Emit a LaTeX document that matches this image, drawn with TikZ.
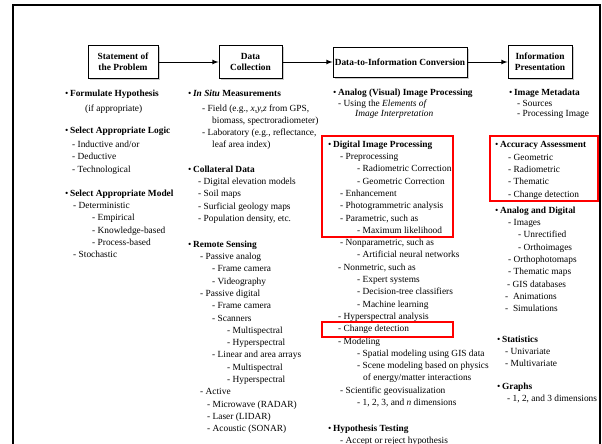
\documentclass[tikz,border=0pt]{standalone}
\usepackage{fontspec}
\setmainfont{Liberation Serif}
\usetikzlibrary{shadows}
\newlength\pxu
\setlength\pxu{0.03cm}
\newcommand\ind[1]{\hspace*{#1\pxu}}
\newcommand\bul{\textbullet\,}

\begin{document}
\begin{tikzpicture}[x=0.03cm, y=-0.03cm,
  stepbox/.style={draw, line width=0.8pt, fill=white, align=center,
    font=\fontsize{8}{9.5}\selectfont\bfseries, minimum height=0.99cm, inner sep=1pt,
    drop shadow={shadow xshift=1.5pt, shadow yshift=-1.5pt, fill=black!40}},
  item/.style={anchor=north west, inner sep=0pt, align=left, font=\fontsize{8}{10.5}\selectfont},
  tight/.style={font=\fontsize{8}{9.2}\selectfont},
  hilite/.style={draw=red, line width=1.6pt}]

\useasboundingbox (0,0) rectangle (602,444);
% frame
\draw[line width=1.8pt] (13,444) -- (13,5) -- (600,5) -- (600,444);

% steps
\node[stepbox, minimum width=2.1cm] (problem) at (123,62) {Statement of\\the Problem};
\node[stepbox, minimum width=1.89cm] (collect) at (250.5,62) {Data\\Collection};
\node[stepbox, minimum width=4.02cm, minimum height=0.9cm] (convert) at (400,62) {Data-to-Information Conversion};
\node[stepbox, minimum width=1.92cm] (present) at (540,62) {Information\\Presentation};

\draw[-latex, line width=0.8pt] (problem) -- (collect);
\draw[-latex, line width=0.8pt] (collect) -- (convert);
\draw[-latex, line width=0.8pt] (convert) -- (present);

% problem column
\node[item] (hypothesis) at (65,89.5) {\bul\textbf{Formulate Hypothesis}\\[1mm]
  \ind{20}(if appropriate)};
\node[item] (logic) at (65,126.5) {\bul\textbf{Select Appropriate Logic}\\[0.6mm]
  \ind{7}- Inductive and/or\\\ind{7}- Deductive\\\ind{7}- Technological};
\node[item] (model) at (65,189.5) {\bul\textbf{Select Appropriate Model}\\
  \ind{8}- Deterministic\\\ind{27}- Empirical\\\ind{27}- Knowledge-based\\
  \ind{27}- Process-based\\\ind{8}- Stochastic};

% collection column
\node[item] (insitu) at (188,90) {\bul\textbf{\textit{In Situ} Measurements}\\[0.6mm]
  \ind{14}- Field (e.g., \textit{x,y,z} from GPS,\\\ind{24}biomass, spectroradiometer)\\
  \ind{14}- Laboratory (e.g., reflectance,\\\ind{24}leaf area index)};
\node[item] (collateral) at (188,165.5) {\bul\textbf{Collateral Data}\\
  \ind{10}- Digital elevation models\\\ind{10}- Soil maps\\
  \ind{10}- Surficial geology maps\\\ind{10}- Population density, etc.};
\node[item] (remote) at (188,240.5) {\bul\textbf{Remote Sensing}\\
  \ind{12}- Passive analog\\\ind{24}- Frame camera\\\ind{24}- Videography\\
  \ind{12}- Passive digital\\\ind{24}- Frame camera\\\ind{24}- Scanners\\
  \ind{39}- Multispectral\\\ind{39}- Hyperspectral\\\ind{24}- Linear and area arrays\\
  \ind{39}- Multispectral\\\ind{39}- Hyperspectral\\\ind{12}- Active\\
  \ind{19}- Microwave (RADAR)\\\ind{19}- Laser (LIDAR)\\\ind{19}- Acoustic (SONAR)};

% conversion column
\node[item, tight] (analog) at (333,88.5) {\bul\textbf{Analog (Visual) Image Processing}\\
  \ind{5}- Using the \textit{Elements of}\\\ind{22}\textit{Image Interpretation}};
\node[item] (digital) at (328,140.5) {\bul\textbf{Digital Image Processing}\\
  \ind{12}- Preprocessing\\\ind{29}- Radiometric Correction\\\ind{29}- Geometric Correction\\
  \ind{12}- Enhancement\\\ind{12}- Photogrammetric analysis\\\ind{12}- Parametric, such as\\
  \ind{29}- Maximum likelihood\\\ind{12}- Nonparametric, such as\\\ind{29}- Artificial neural networks\\
  \ind{10}- Nonmetric, such as\\\ind{29}- Expert systems\\\ind{29}- Decision-tree classifiers\\
  \ind{29}- Machine learning\\\ind{10}- Hyperspectral analysis\\\ind{10}- Change detection\\
  \ind{10}- Modeling\\\ind{29}- Spatial modeling using GIS data\\\ind{29}- Scene modeling based on physics\\
  \ind{35}of energy/matter interactions\\\ind{12}- Scientific geovisualization\\
  \ind{29}- 1, 2, 3, and \textit{n} dimensions};
\node[item] (testing) at (328,424.5) {\bul\textbf{Hypothesis Testing}\\
  \ind{12}- Accept or reject hypothesis};

% presentation column
\node[item, tight] (metadata) at (509,88.5) {\bul\textbf{Image Metadata}\\
  \ind{8}- Sources\\\ind{8}- Processing Image};
\node[item] (accuracy) at (495,141.5) {\bul\textbf{Accuracy Assessment}\\
  \ind{13}- Geometric\\\ind{13}- Radiometric\\\ind{13}- Thematic\\\ind{13}- Change detection};
\node[item] (analogdig) at (495,206.5) {\bul\textbf{Analog and Digital}\\
  \ind{13}- Images\\\ind{23}- Unrectified\\\ind{23}- Orthoimages\\\ind{13}- Orthophotomaps\\
  \ind{13}- Thematic maps\\\ind{12}- GIS databases\\\ind{10}- \ Animations\\\ind{10}- \ Simulations};
\node[item] (statistics) at (497,335.5) {\bul\textbf{Statistics}\\
  \ind{8}- Univariate\\\ind{8}- Multivariate};
\node[item] (graphs) at (497,382.5) {\bul\textbf{Graphs}\\
  \ind{10}- 1, 2, and 3 dimensions};

% highlights
\draw[hilite] (322,136) rectangle (453,237);
\draw[hilite] (322,322) rectangle (453,337);
\draw[hilite] (490,136) rectangle (598,201);
\end{tikzpicture}
\end{document}
